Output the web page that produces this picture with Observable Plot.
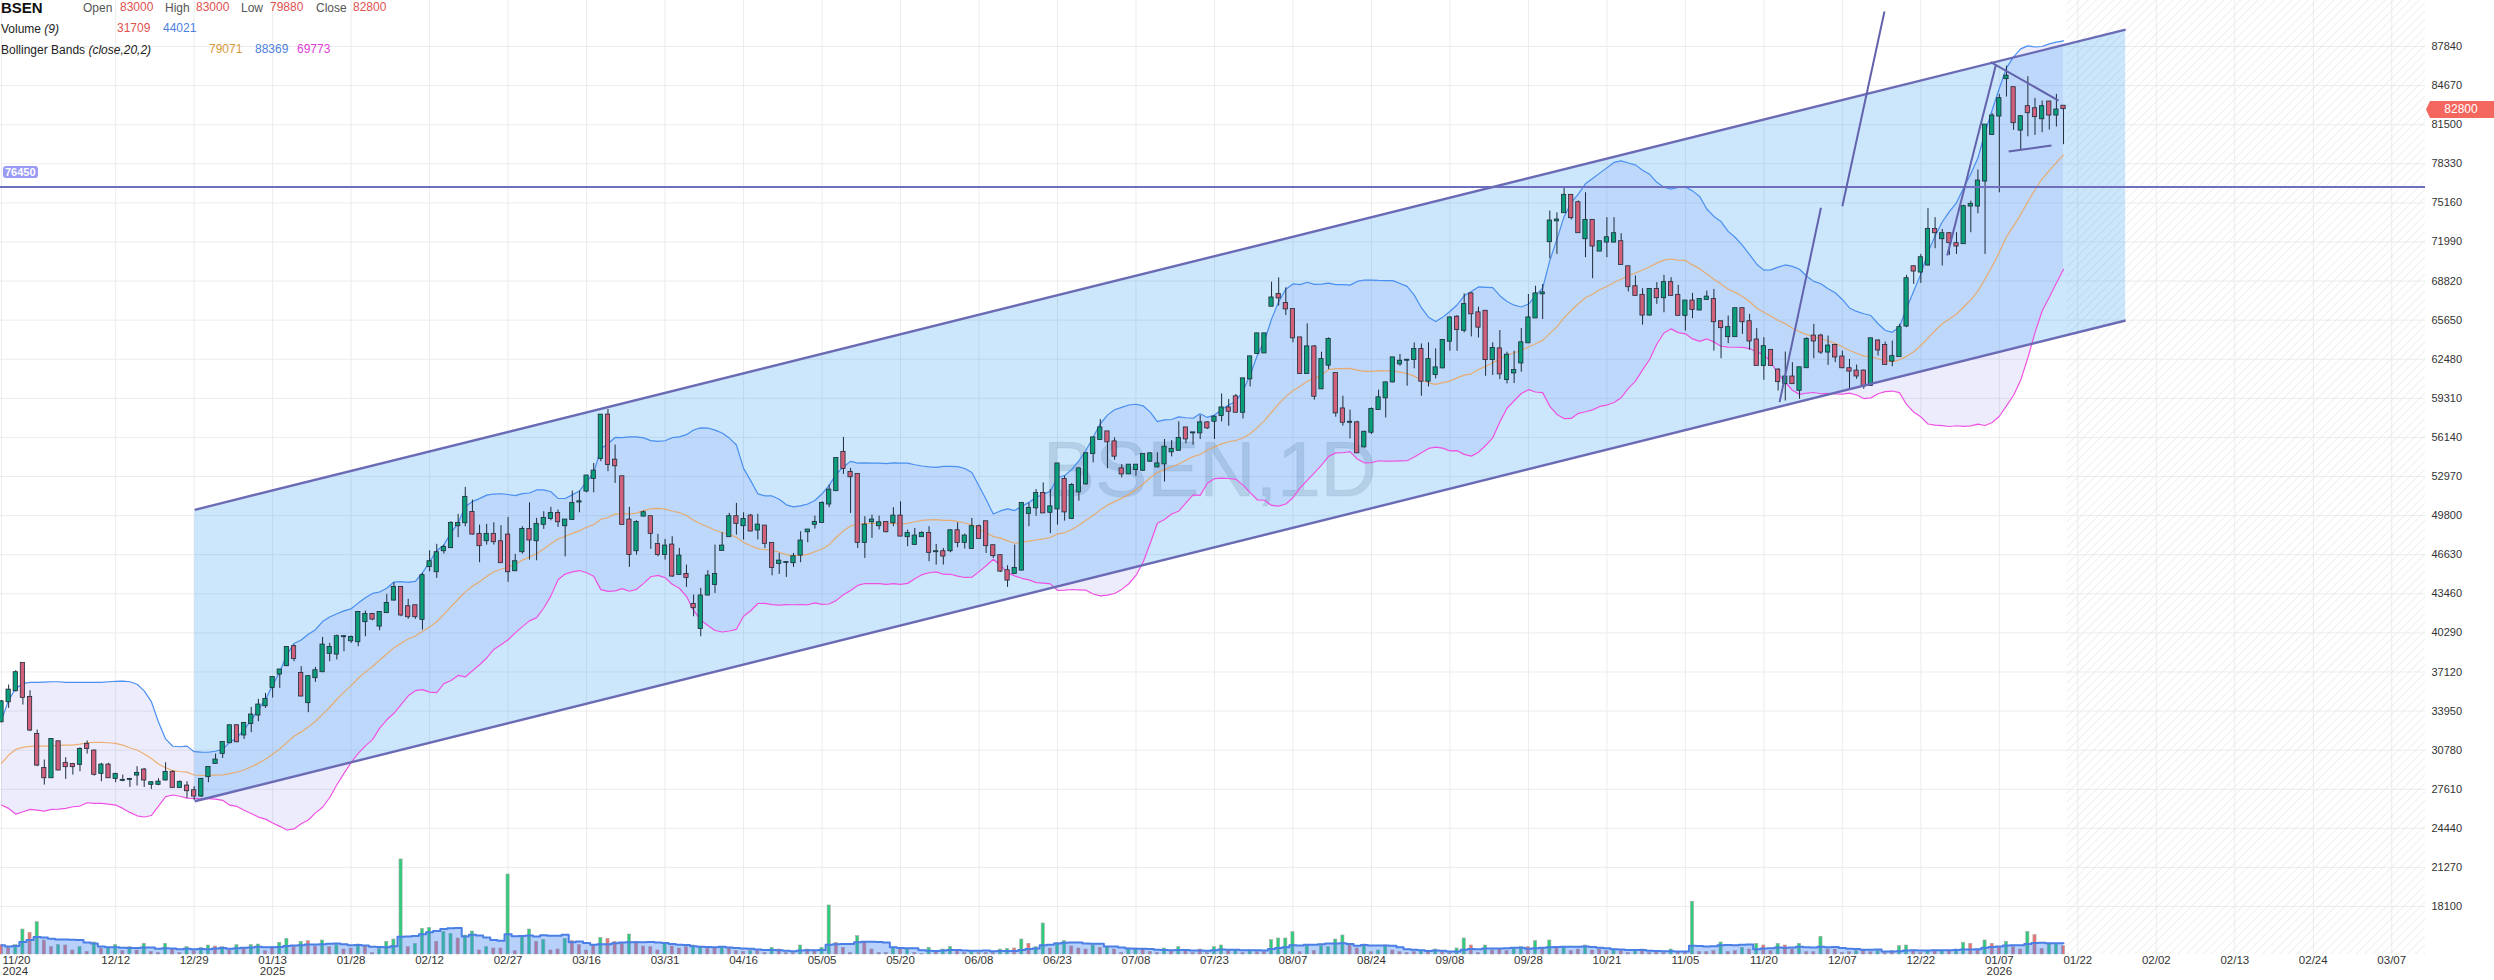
<!DOCTYPE html>
<html>
<head>
<meta charset="utf-8">
<script src="https://cdn.jsdelivr.net/npm/d3@7"></script>
<script src="https://cdn.jsdelivr.net/npm/@observablehq/plot@0.6"></script>
<style>
html,body{margin:0;padding:0;background:#fff;}
#wrap{position:relative;width:2494px;height:980px;overflow:hidden;font-family:"Liberation Sans",Arial,sans-serif;}
#wrap svg{position:absolute;left:0;top:0;}
.t{position:absolute;white-space:nowrap;font-size:12px;line-height:14px;}
.lab{color:#555;}
.dark{color:#222;}
</style>
</head>
<body>
<div id="wrap"></div>
<script>
// ---------------- DATA ----------------
const opens = [
33080,34700,35600,37820,35060,32060,29300,28540,31460,29710,
29620,29630,31250,30710,28900,29570,28490,28330,28410,28760,
29170,28010,28010,28360,28980,27760,27870,27490,27060,28630,
29710,30520,31380,32760,32010,32950,33630,34380,35870,36950,
37630,39170,37000,34630,36660,37140,38630,38570,39980,39650,
39570,41200,41790,40840,41930,42950,43980,42410,42490,41390,
45660,45250,46950,47200,48980,49220,50060,48280,47760,48280,
47680,48220,45330,46870,48680,47760,49090,49570,49980,48980,
49490,50900,51790,52820,54440,57950,54300,52950,49440,46950,
49760,49710,47460,46650,47410,45030,45030,42600,40650,43360,
44220,46980,48090,49710,48980,49760,48630,48950,47550,45920,
46000,45980,46600,48490,49090,49250,50740,51820,54930,53300,
53140,47630,49300,48980,49250,49220,49760,48090,47460,48090,
48360,46870,46870,46950,48570,47630,47140,48900,49300,47360,
46550,45330,45110,45380,49980,50430,51590,50070,50340,52720,
49560,51720,52370,54830,55970,56590,55780,53590,53180,53530,
53480,54210,53750,53990,54970,55100,56910,56510,56510,57320,
57450,57910,58530,59430,58180,60890,62940,62990,66780,67730,
67000,66510,64210,61320,63480,60080,62000,61320,58450,57370,
57320,55370,56560,58400,59350,60640,62100,62400,62450,63270,
60700,61240,61780,63940,65890,64830,67780,66240,66370,62450,
63320,60830,61370,62180,63810,65830,67780,72010,73700,74360,
75770,75170,72250,73740,71250,71980,71980,72010,69980,68360,
67660,66060,68140,67470,68690,67660,66040,67200,66470,67330,
67330,65520,64310,64310,66580,65520,64040,61980,63200,61600,
60500,61040,59960,61790,64360,64360,63060,63600,62660,61710,
61520,61520,60360,63960,63600,62330,62690,65170,69980,69550,
70120,73010,72250,72660,71850,71850,74900,74900,76930,80710,
82200,85230,84500,81060,82960,82790,81980,83340,82280,83000];

const highs = [
34800,36060,37220,37820,35600,32410,29980,31650,31460,30170,
29710,30980,31520,30790,29710,29710,28900,28760,28490,29440,
29300,28220,28460,29760,29110,28280,28220,27820,28490,29440,
30460,31410,32760,32820,33010,34250,34900,35380,36680,37330,
39170,39300,37550,36790,37490,39920,39440,40110,40060,40030,
42010,42060,41870,42010,43410,44360,44030,43010,42520,45120,
46950,47470,47410,49300,49900,52090,51060,49030,49090,49220,
48980,49660,46660,48900,50840,49570,50110,50470,50250,49440,
51790,51790,53010,54030,57950,58410,55520,52950,50470,49380,
50170,49760,48280,47870,48090,47140,45790,43360,43900,45330,
47410,48410,49980,50790,50030,49900,49900,48950,47550,46730,
46030,46730,48490,48630,49760,50920,52280,54440,56140,53630,
53140,49710,49840,49760,49300,50440,50920,48630,48760,48490,
48900,47460,47140,48630,49220,48300,49570,49030,49300,47410,
46600,45730,47410,50840,50790,51910,52450,51910,53990,52990,
52400,53670,54890,56160,57590,56590,56100,53940,53940,53940,
54750,54890,54890,55970,55890,57400,56910,56510,57910,57400,
57910,59670,59210,59620,60890,62720,64540,64540,68730,69080,
68270,66510,64210,65350,63590,63050,64210,61320,59480,58350,
57450,56640,58530,59970,60620,62590,62860,62450,63810,63720,
63810,63320,64080,65910,66020,67780,67860,66700,66430,63810,
64810,63050,63130,64970,67730,68400,68540,74500,74360,76390,
75770,75310,75980,73740,72010,73960,73960,72660,69980,69230,
68200,68200,68690,69280,69090,68470,67200,67820,67390,68010,
68140,65520,65980,66580,66580,66120,64960,64230,63200,61710,
63060,62200,61790,64230,65310,64500,64360,63690,63140,62470,
62010,61600,64140,64040,63870,63960,65310,69280,70040,70980,
74690,73960,73010,72740,72740,74960,75300,77820,81470,82390,
83960,86250,84500,82150,85390,83630,83420,83340,83960,83000];

const lows = [
33000,34170,35500,34440,32280,29440,27950,28540,29110,28410,
28760,29030,30460,28680,28220,28490,28140,28220,27760,27870,
27760,27600,27900,28280,27700,27680,26870,26680,26950,28140,
29650,30110,31330,31380,31650,32200,33090,34170,35000,35790,
37550,37950,35110,33820,36280,37060,37950,38090,38760,39440,
39170,39980,41280,40460,41870,42870,41600,41390,41390,40520,
45250,44710,46680,47140,48010,48900,48220,45980,47410,47410,
45980,44390,45250,46680,46190,46140,48680,49380,48840,46460,
49440,50030,51650,51650,54170,53360,52410,49090,45600,46600,
49710,47060,46460,46190,44790,44980,43980,41600,39980,43280,
43490,46950,48090,48220,47820,48490,47820,47140,44920,45030,
44790,45600,45980,47600,48710,49170,50440,51820,53140,49980,
47140,46330,47950,48630,48410,48900,48090,47280,47410,48030,
46060,45790,45790,46790,47190,47090,47060,47870,46730,46330,
45190,43980,45060,45330,48900,49750,49970,48340,49020,49350,
49480,50970,52260,54080,55970,53590,54290,52860,53130,52990,
53400,54130,53670,52530,54560,55020,55620,55510,55970,56780,
55970,57400,57050,58130,57640,60240,62910,62990,66780,66780,
66020,63810,61240,61320,59160,60020,61640,57780,57050,56020,
54830,55290,56370,58350,57720,60560,61910,60290,61700,59480,
60240,60890,61700,63130,63130,64620,64290,64210,61100,61160,
60830,60480,60510,61430,63750,65780,65700,70630,70980,74360,
73770,72740,70710,69010,71250,70710,71930,70120,67930,67600,
65250,65980,66930,66250,67600,65980,64770,65770,66470,67280,
63140,62520,63740,64280,64500,63200,61980,60770,61930,59900,
59090,60440,59230,61740,62520,62870,61980,62200,61710,60090,
60850,60040,60310,62740,62010,61870,62660,65040,68550,68630,
70040,71440,70040,70900,70980,71790,72740,74280,70980,80630,
75980,83740,81040,79440,80520,80630,80850,81060,81310,79880];

const closes = [
34700,35650,37060,35060,32410,29570,28540,31650,29170,29440,
29440,30840,30920,28820,29570,28540,28820,28330,28410,28900,
28360,28140,28190,28980,27760,28170,27490,27060,28410,29380,
29980,31410,32760,31460,32950,33630,34440,34900,36680,37280,
39110,38220,35170,36740,37220,39300,39110,39980,39980,39920,
41950,41790,41410,41950,42680,43980,41740,41600,41600,44930,
46060,46790,47220,49170,49170,51280,48300,47360,48280,47680,
45980,45250,46060,48680,47820,49090,49570,49980,49300,49440,
50790,50920,53010,53410,57950,53950,53840,49090,46650,49250,
50030,48360,46650,47330,44900,46520,44790,42330,43280,44900,
45030,47330,49710,49170,49490,48550,49030,47550,45600,46110,
46000,46460,47740,48630,49250,50790,51870,54440,53630,52950,
47630,49030,49440,49220,48490,49760,48140,48360,48140,48360,
46820,46870,46520,48570,47630,48140,48900,47950,47360,46550,
45300,44570,45520,50790,50380,51590,50020,50510,53990,50100,
52240,53590,54810,56100,56910,55780,54620,53180,53890,53890,
54750,54810,53990,55350,55160,56050,56020,56510,57320,56910,
57780,58530,58260,58180,60890,62670,64540,64540,67450,67450,
66560,64210,61320,63480,59480,62450,64080,58130,57370,57370,
54890,56560,58400,59350,60560,62590,62320,62400,63270,60700,
62450,61780,64000,65830,64890,66910,66160,65080,62450,63350,
61290,62810,61560,63810,65830,67780,67860,73690,73770,75770,
73960,72740,73740,71660,72010,72330,72660,70170,68360,67660,
66060,68140,67470,68690,67660,66040,67200,66520,67330,67520,
65520,65040,65040,66580,65520,63960,61980,63500,61980,60660,
61040,60500,61790,64090,63960,63060,63550,62660,61790,61520,
61120,60310,64140,63230,62060,62690,65040,69010,69630,70710,
73010,72740,72660,71930,71660,74850,75040,76930,81470,82200,
83610,85440,81660,82150,82470,82150,82960,82280,82690,82800];

const volumes = [
35476,25340,35476,95025,82355,122899,53214,27874,35476,34209,
15204,27874,10136,45612,22806,25340,35476,12670,27874,15204,
40544,10136,6335,40544,19005,6335,27874,12670,25340,34209,
30408,27874,15204,35476,22806,35476,38010,12670,27874,44345,
59549,27874,48146,50680,30408,53214,27874,35476,19005,22806,
38010,31675,6335,21539,48146,57015,361095,27874,40544,97559,
101360,48146,86156,78554,60816,72219,87423,15204,27874,22806,
22806,304080,12670,65884,95025,48146,55748,15204,19005,59549,
50680,35476,15204,34209,63350,59549,48146,40544,76020,48146,
30408,27874,15204,44345,30408,22806,27874,34209,27874,22806,
22806,27874,22806,12670,10136,12670,12670,6335,25340,19005,
6335,6335,34209,19005,12670,25340,186249,44345,25340,6335,
69685,46879,19005,6335,6335,22806,19005,19005,6335,2534,
25340,12670,19005,29141,17738,6335,10136,6335,6335,6335,
19005,21539,22806,57015,40544,27874,117831,22806,44345,50680,
30408,22806,19005,34209,25340,27874,19005,6335,22806,22806,
19005,10136,6335,22806,12670,27874,12670,6335,19005,6335,
27874,34209,15204,15204,6335,15204,8869,8869,54481,60816,
60816,84889,8869,31675,12670,31675,27874,57015,72219,34209,
22806,38010,8869,15204,34209,15204,8869,6335,8869,12670,
12670,19005,8869,6335,22806,60816,34209,6335,34209,15204,
19005,12670,21539,27874,27874,50680,22806,53214,22806,27874,
12670,19005,34209,15204,19005,12670,19005,12670,6335,17738,
19005,6335,8869,6335,19005,8869,8869,200186,10136,8869,
12670,45612,8869,12670,25340,19005,40544,34209,12670,40544,
34209,19005,40544,8869,8869,67151,19005,19005,6335,8869,
12670,12670,8869,12670,6335,12670,31675,34209,12670,6335,
12670,12670,12670,12670,19005,44345,40544,19005,53214,40544,
27874,48146,27874,19005,86156,73486,21539,40544,38010,31709];

// volume bar colour read per bar (g = up, r = down)
const volDir = ("rrggrgrrgr"+"rgrgrggrgr"+"grrgrrgrgg"+"rgrgrggrrg"+"grgrrgrgrr"+"grrggggrgg"+"grggrggrgr"+
  "rgrggrgrrg"+"rrrrgrrrgr"+"rrrgrrrggr"+"rgrrrgrrgr"+"rrgrrggrrr"+"grrrrgrgrr"+"grggrrgrrr"+"ggrgrg"+
  "grggrrrgrg"+"rrggrrrgrg"+"rrrrggrgrg"+"rrggggrgrg"+"gggrrgrggr"+"rrrgrgrrgg"+"rrgrrrggrg"+"rgrgrrgrrr"+
  "grrgrrrrgr"+"rgrrrgrrgr"+"grrgrrgrrg"+"rrrrgrrgrr"+"ggrrgrgrgg"+"rrgrrgrrgr"+"rggr").split("");

// Bollinger Bands (20,2) for the first bars (history before the visible range)
const bbUpperStart = [33219,34841,35788,36193,36274,36274,36301,36328,36328,36274,36274,36274,36274,36274,36274,36328,36355,36382,36328];
const bbMidStart   = [29706,30381,30841,31003,31084,31111,31111,31111,31165,31192,31192,31273,31381,31408,31408,31381,31327,31192,30976];
const bbLowerStart = [26327,26056,25597,25786,25975,25921,25840,25975,26002,26056,26192,26246,26516,26462,26462,26408,26327,26056,25732];

// axis ticks
const yTickValues = [18100,21270,24440,27610,30780,33950,37120,40290,43460,46630,49800,52970,56140,59310,62480,65650,68820,71990,75160,78330,81500,84670,87840];
const tickIdx = [0,16,27,38,49,60,71,82,93,104,115,126,137,148,159,170,181,192,203,214,225,236,247,258,269,280,291,302,313,324,335];
const tickLabels = ["11/20","12/12","12/29","01/13","01/28","02/12","02/27","03/16","03/31","04/16","05/05","05/20","06/08","06/23","07/08","07/23","08/07","08/24","09/08","09/28","10/21","11/05","11/20","12/07","12/22","01/07","01/22","02/02","02/13","02/24","03/07"];
const tickYears  = ["2024","","","2025","","","","","","","","","","","","","","","","","","","","","","2026","","","","",""];

// drawings (bar index, price)
const channelIdx = [27.09, 297.7];
const channelTop = [50270, 89210];
const channelBottom = [26640, 65620];
const levelPrice = 76450;
const lineIdx1   = [249.2, 258.0, 272.7, 278.8, 281.3];
const linePrice1 = [59000, 74890, 70890, 86570, 79330];
const lineIdx2   = [255.0, 263.9, 279.5, 288.3, 287.3];
const linePrice2 = [74760, 90680, 86300, 83460, 79810];
const lastPrice = 82800;

// ---------------- BUILD ----------------
const W = 2494, H = 980, MR = 69, MB = 26;
const n = closes.length;
const xDom = [-0.14, 339.73];
const yDom = [14210, 91570];
const upCol = "#0a9e7a", dnCol = "#d2607a", edge = "#1e2c3c";

const bars = closes.map((c, i) => ({i, o: opens[i], h: highs[i], l: lows[i], c}));
const bb = closes.map((c, i) => {
  if (i < bbMidStart.length) return {i, up: bbUpperStart[i], mid: bbMidStart[i], lo: bbLowerStart[i]};
  const w = closes.slice(i - 19, i + 1);
  const m = d3.mean(w);
  const sd = Math.sqrt(d3.mean(w, v => (v - m) ** 2));
  return {i, up: m + 2 * sd, mid: m, lo: m - 2 * sd};
});
const channel = channelIdx.map((x, k) => ({x, lo: channelBottom[k], hi: channelTop[k]}));
const channelLines = [
  {x1: channelIdx[0], y1: channelTop[0], x2: channelIdx[1], y2: channelTop[1]},
  {x1: channelIdx[0], y1: channelBottom[0], x2: channelIdx[1], y2: channelBottom[1]}
];
const drawLines = lineIdx1.map((x1, k) => ({x1, y1: linePrice1[k], x2: lineIdx2[k], y2: linePrice2[k]}));
const xt = tickIdx.map((t, k) => ({t, s: tickLabels[k] + (tickYears[k] ? "\n" + tickYears[k] : "")}));

const main = Plot.plot({
  width: W, height: H, marginLeft: 0, marginRight: MR, marginTop: 0, marginBottom: MB,
  x: {type: "linear", domain: xDom, axis: null},
  y: {type: "linear", domain: yDom, axis: null},
  color: {type: "identity"},
  style: {background: "transparent", fontFamily: "Liberation Sans, Arial, sans-serif", color: "#333", overflow: "visible"},
  marks: [
    Plot.gridX(tickIdx, {stroke: "#ececec", strokeOpacity: 1}),
    Plot.gridY(yTickValues, {stroke: "#ececec", strokeOpacity: 1}),
    Plot.rect([n - 0.5], {x1: d => d, x2: () => xDom[1], fill: "url(#hatch)"}),
    Plot.text(["BSEN,1D"], {frameAnchor: "middle", dy: -6, dx: -3, fontSize: 78, fill: "#6f7c88", fillOpacity: 0.22, stroke: "#6f7c88", strokeOpacity: 0.12, strokeWidth: 1}),
    Plot.areaY(bb, {x: "i", y1: "lo", y2: "up", fill: "rgb(40,40,230)", fillOpacity: 0.085}),
    Plot.areaY(channel, {x: "x", y1: "lo", y2: "hi", fill: "#2196f3", fillOpacity: 0.23}),
    Plot.line(bb, {x: "i", y: "up", stroke: "#4a90f0", strokeWidth: 1.2}),
    Plot.line(bb, {x: "i", y: "lo", stroke: "#ee50e4", strokeWidth: 1.2}),
    Plot.line(bb, {x: "i", y: "mid", stroke: "#f0a050", strokeOpacity: 0.8, strokeWidth: 1.2}),
    Plot.ruleX(bars, {x: "i", y1: "l", y2: "h", stroke: edge, strokeWidth: 1}),
    Plot.rect(bars, {x1: d => d.i - 0.3, x2: d => d.i + 0.3, y1: "o", y2: "c", insetTop: -0.5, insetBottom: -0.5,
      fill: d => d.c >= d.o ? upCol : dnCol, stroke: edge, strokeWidth: 0.8}),
    Plot.ruleY([levelPrice], {stroke: "#6f6fbf", strokeWidth: 2}),
    Plot.link(channelLines, {x1: "x1", y1: "y1", x2: "x2", y2: "y2", stroke: "#6b6bb5", strokeWidth: 2.4}),
    Plot.link(drawLines, {x1: "x1", y1: "y1", x2: "x2", y2: "y2", stroke: "#6262ad", strokeWidth: 2}),
    Plot.text(xt.slice(1), {x: "t", text: "s", frameAnchor: "bottom", lineAnchor: "top", dy: 2, fontSize: 11.5, fill: "#333", lineHeight: 0.92}),
    Plot.text(xt.slice(0, 1), {x: "t", text: "s", frameAnchor: "bottom", lineAnchor: "top", textAnchor: "start", dy: 2, dx: 1, fontSize: 11.5, fill: "#333", lineHeight: 0.92}),
    Plot.axisY(yTickValues, {anchor: "right", tickSize: 0, tickPadding: 6, fontSize: 11, tickFormat: d => String(d), label: null, fill: "#333"})
  ]
});

// hatch pattern for the future area
const defs = d3.select(main).insert("defs", ":first-child");
const pat = defs.append("pattern").attr("id", "hatch").attr("patternUnits", "userSpaceOnUse")
  .attr("width", 6).attr("height", 6).attr("patternTransform", "rotate(45)");
pat.append("rect").attr("width", 6).attr("height", 6).attr("fill", "#ffffff").attr("fill-opacity", 0);
pat.append("line").attr("x1", 0).attr("y1", 0).attr("x2", 0).attr("y2", 6).attr("stroke", "#e4e4e4").attr("stroke-width", 1.2);

const volData = volumes.map((v, i) => ({i, v, up: volDir[i] === "g"}));
const volPlot = Plot.plot({
  width: W, height: H, marginLeft: 0, marginRight: MR, marginTop: 0, marginBottom: MB,
  x: {type: "linear", domain: xDom, axis: null},
  y: {type: "linear", domain: [0, 3625000], axis: null},
  color: {type: "identity"},
  style: {background: "transparent"},
  marks: [
    Plot.rect(volData, {x1: d => d.i - 0.22, x2: d => d.i + 0.22, y1: () => 0, y2: "v",
      fill: d => d.up ? "#2fcc7c" : "#ee7272", stroke: "#a8a8a8", strokeWidth: 0.6}),
    Plot.areaY(volData, Plot.windowY({k: 9, anchor: "end"}, {x: "i", y: "v", fill: "#4285f4", fillOpacity: 0.38, curve: "step"})),
    Plot.lineY(volData, Plot.windowY({k: 9, anchor: "end"}, {x: "i", y: "v", stroke: "#4a7fe6", strokeWidth: 2, curve: "step"}))
  ]
});

const wrap = document.getElementById("wrap");
wrap.appendChild(main);
wrap.appendChild(volPlot);

// ---------------- OVERLAY TEXT ----------------
function addSpan(txt, left, top, cls, extra) {
  const s = document.createElement("span");
  s.className = "t " + (cls || "");
  s.innerHTML = txt;
  s.style.left = left + "px";
  s.style.top = top + "px";
  if (extra) Object.assign(s.style, extra);
  wrap.appendChild(s);
  return s;
}
addSpan("BSEN", 1, -1, "", {fontWeight: "bold", fontSize: "15px", lineHeight: "17px", color: "#111"});
addSpan("Open", 83, 1, "lab");  addSpan("83000", 120, 0, "", {color: "#e0514f"});
addSpan("High", 165, 1, "lab"); addSpan("83000", 196, 0, "", {color: "#e0514f"});
addSpan("Low", 241, 1, "lab");  addSpan("79880", 270, 0, "", {color: "#e0514f"});
addSpan("Close", 316, 1, "lab"); addSpan("82800", 353, 0, "", {color: "#e0514f"});
addSpan("Volume <i>(9)</i>", 1, 22, "dark");
addSpan("31709", 117, 21, "", {color: "#e0514f"});
addSpan("44021", 163, 21, "", {color: "#4d7fe0"});
addSpan("Bollinger Bands <i>(close,20,2)</i>", 1, 43, "dark");
addSpan("79071", 209, 42, "", {color: "#d89a3c"});
addSpan("88369", 255, 42, "", {color: "#4d7fe0"});
addSpan("69773", 297, 42, "", {color: "#e040d8"});

const ys = main.scale("y");
const lvlY = ys.apply(levelPrice);
addSpan("76450", 3, Math.round(lvlY - 20.5), "", {background: "#9b9bf6", color: "#fff", fontWeight: "bold", fontSize: "11px",
  lineHeight: "12px", padding: "0 2px", borderRadius: "3px"});
const pY = ys.apply(lastPrice);
addSpan(String(lastPrice), 2426, Math.round(pY - 7.5), "", {background: "#f4675f", color: "#fff", fontSize: "12px",
  lineHeight: "17px", width: "68px", textAlign: "center", paddingLeft: "2px", boxSizing: "border-box",
  clipPath: "polygon(4px 0,100% 0,100% 100%,4px 100%,0 50%)"});
</script>
</body>
</html>
